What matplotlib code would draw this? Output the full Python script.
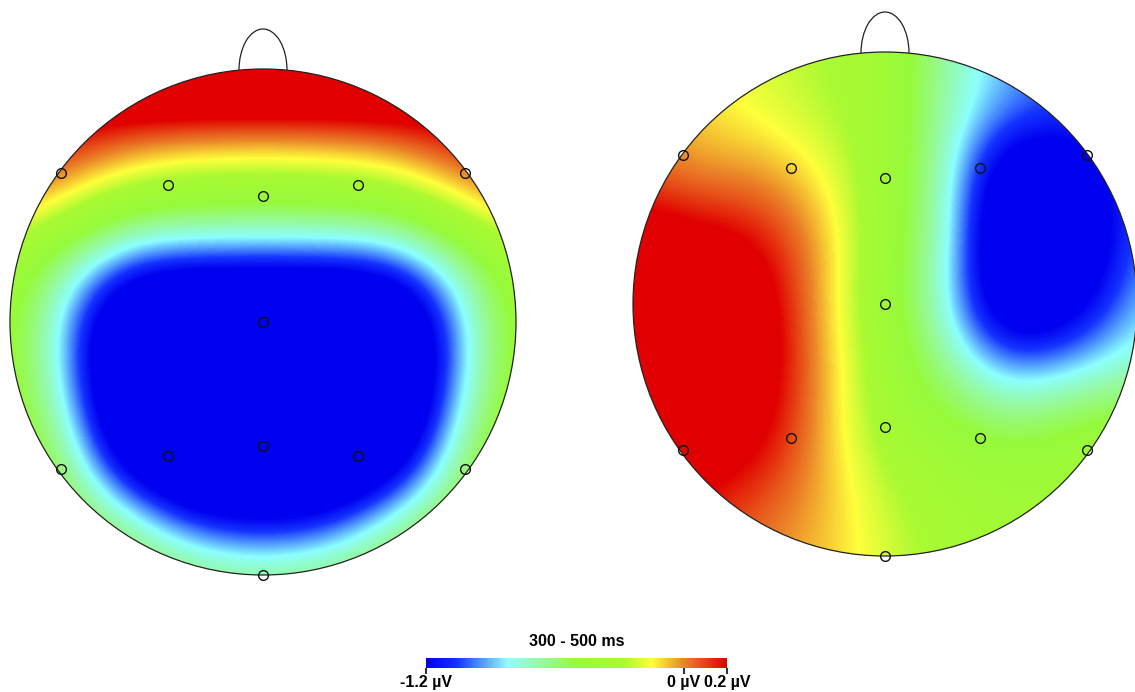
import numpy as np
import matplotlib
matplotlib.use("Agg")
import matplotlib.pyplot as plt
from matplotlib.colors import LinearSegmentedColormap
from matplotlib.patches import Circle, Arc

plt.rcParams['font.family'] = ['Liberation Sans', 'DejaVu Sans']

# amplitude (uV) on a 9x9 grid spanning the head box,
# rows from front (nose) to back, columns from left to right
left_map = [
    [0.50, 0.60, 0.70, 0.75, 0.75, 0.75, 0.70, 0.60, 0.50],
    [0.30, 0.20, 0.08, 0.03, 0.02, 0.03, 0.08, 0.20, 0.30],
    [0.05, -0.15, -0.35, -0.40, -0.42, -0.40, -0.35, -0.15, 0.05],
    [-0.35, -0.68, -0.98, -1.00, -1.00, -1.00, -0.98, -0.68, -0.35],
    [-0.40, -0.95, -1.80, -2.00, -2.00, -2.00, -1.80, -0.95, -0.40],
    [-0.40, -0.90, -1.90, -2.10, -2.10, -2.10, -1.90, -0.90, -0.40],
    [-0.35, -0.70, -1.60, -2.00, -2.00, -2.00, -1.60, -0.70, -0.35],
    [-0.30, -0.50, -0.80, -1.20, -1.30, -1.20, -0.80, -0.50, -0.30],
    [-0.30, -0.35, -0.45, -0.55, -0.60, -0.55, -0.45, -0.35, -0.30],
]
right_map = [
    [-0.10, -0.15, -0.20, -0.28, -0.35, -0.70, -0.92, -1.00, -1.00],
    [-0.05, -0.10, -0.18, -0.25, -0.35, -0.72, -0.98, -1.05, -1.00],
    [0.10, -0.02, 0.00, -0.14, -0.38, -0.72, -1.55, -1.45, -0.95],
    [0.35, 0.30, 0.20, -0.04, -0.42, -0.72, -1.70, -1.55, -0.95],
    [0.35, 0.45, 0.35, -0.08, -0.42, -0.78, -1.60, -1.35, -0.85],
    [0.40, 0.50, 0.35, -0.05, -0.38, -0.65, -0.95, -0.85, -0.72],
    [0.35, 0.40, 0.28, -0.06, -0.35, -0.45, -0.55, -0.45, -0.40],
    [0.25, 0.20, 0.10, -0.05, -0.25, -0.35, -0.38, -0.38, -0.38],
    [0.20, 0.10, 0.00, -0.08, -0.20, -0.33, -0.38, -0.38, -0.38],
]

# electrode layout, in head radii (x to the right, y to the nose)
elec_x = [-0.80, -0.375, 0.0, 0.375, 0.80, 0.0, -0.80, -0.375, 0.0, 0.375, 0.80, 0.0]
elec_y = [0.59, 0.54, 0.50, 0.54, 0.59, 0.0, -0.58, -0.53, -0.49, -0.53, -0.58, -1.0]

vmin, vmax = -1.2, 0.2
cbar_ticks = [-1.2, 0.0, 0.2]
cbar_labels = ["-1.2 \u00b5V", "0 \u00b5V", "0.2 \u00b5V"]
title = "300 - 500 ms"

stops = [(0.0, (0, 0, 240)), (0.10, (20, 50, 255)), (0.27, (140, 255, 255)),
         (0.38, (150, 250, 160)), (0.50, (150, 250, 60)), (0.66, (170, 250, 50)),
         (0.75, (255, 255, 60)), (0.86, (235, 130, 40)), (1.0, (225, 0, 0))]
cmap = LinearSegmentedColormap.from_list(
    "topo", [(p, tuple(c / 255 for c in rgb)) for p, rgb in stops])

fig = plt.figure(figsize=(11.35, 6.92), dpi=100)
ax = fig.add_axes([0, 0, 1, 1])
ax.axis("off")

heads = [(263, 322, 253, left_map), (885, 304, 252, right_map)]
for cx, cy, R, grid in heads:
    half = R / 8
    im = ax.imshow(np.array(grid), cmap=cmap, vmin=vmin, vmax=vmax,
                   extent=(cx - R - half, cx + R + half, cy + R + half, cy - R - half),
                   origin="upper", interpolation="bicubic",
                   interpolation_stage="data", zorder=1)
    clip = Circle((cx, cy), R, transform=ax.transData)
    im.set_clip_path(clip)
    ax.add_patch(Circle((cx, cy), R, fill=False, ec="#222222", lw=0.9, zorder=3))
    ax.add_patch(Arc((cx, cy - R + 1), 48, 82, theta1=180, theta2=360,
                     ec="#222222", lw=0.9, zorder=3))
    ax.plot(cx + np.array(elec_x) * R, cy - np.array(elec_y) * R, "o",
            ms=7, mfc="none", mec="#111111", mew=1.0, zorder=4)

ax.set_xlim(0, 1135)
ax.set_ylim(692, 0)

cax = fig.add_axes([426 / 1135, (692 - 668) / 692, 301 / 1135, 10 / 692])
cb = fig.colorbar(im, cax=cax, orientation="horizontal", ticks=cbar_ticks)
cb.outline.set_visible(False)
cb.set_ticklabels(cbar_labels)
cax.tick_params(length=4, width=1.5, labelsize=11.5, pad=1, color="#333333")
for t in cax.get_xticklabels():
    t.set_fontweight("bold")
cax.set_title(title, fontsize=11.5, fontweight="bold", pad=9)

fig.savefig("out.png", dpi=100)
